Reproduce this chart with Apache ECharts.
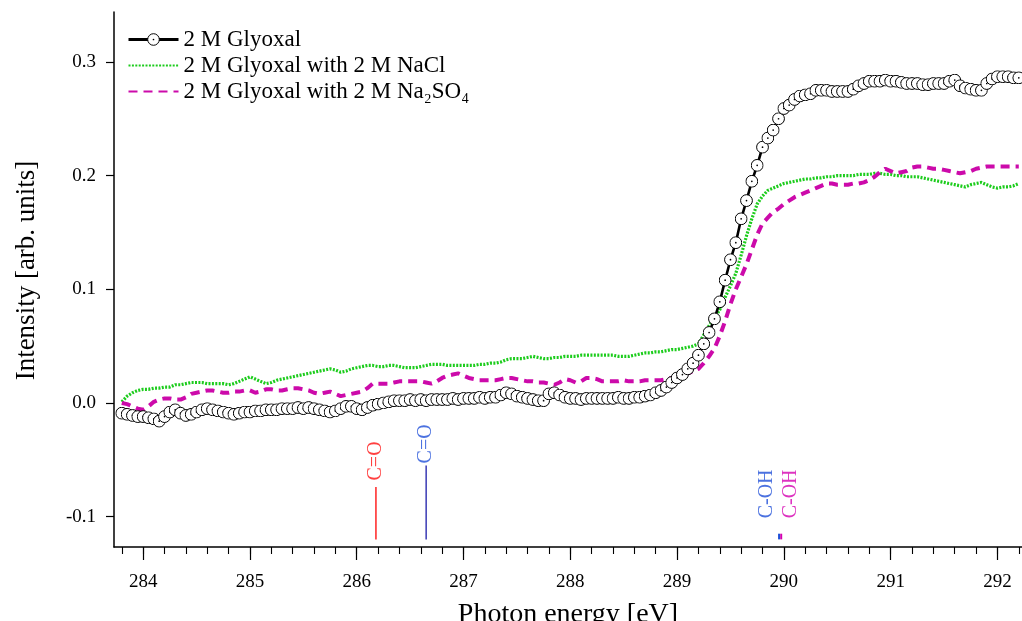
<!DOCTYPE html>
<html><head><meta charset="utf-8">
<script src="https://cdn.jsdelivr.net/npm/echarts@6/dist/echarts.min.js"></script>
<style>html,body{margin:0;padding:0;background:#fff}#c{width:1022px;height:621px}</style>
</head><body><div id="c"></div>
<script>
// ---- data ----
const E_START = 283.80, E_STEP = 0.05; // uniform photon-energy grid of the spectra
const glyoxal = [
 -0.009,-0.010,-0.011,-0.012,-0.012,-0.013,-0.014,-0.016,-0.012,-0.008,
 -0.006,-0.009,-0.011,-0.010,-0.008,-0.006,-0.005,-0.006,-0.007,-0.008,
 -0.009,-0.010,-0.009,-0.008,-0.008,-0.007,-0.007,-0.006,-0.006,-0.006,
 -0.005,-0.005,-0.005,-0.004,-0.005,-0.004,-0.005,-0.006,-0.007,-0.008,
 -0.007,-0.005,-0.003,-0.003,-0.005,-0.006,-0.004,-0.002,-0.001,0.000,
 0.001,0.002,0.002,0.002,0.003,0.002,0.003,0.002,0.003,0.003,
 0.003,0.003,0.004,0.003,0.004,0.004,0.004,0.005,0.004,0.005,
 0.005,0.007,0.009,0.008,0.006,0.005,0.004,0.003,0.002,0.002,
 0.008,0.009,0.007,0.005,0.004,0.004,0.003,0.004,0.004,0.004,
 0.004,0.004,0.004,0.005,0.004,0.004,0.005,0.005,0.006,0.007,
 0.009,0.011,0.014,0.018,0.022,0.025,0.030,0.035,0.042,0.052,
 0.062,0.074,0.089,0.108,0.126,0.141,0.162,0.178,0.195,0.209,
 0.225,0.233,0.240,0.250,0.259,0.262,0.267,0.270,0.271,0.272,
 0.275,0.275,0.275,0.274,0.274,0.274,0.274,0.276,0.279,0.281,
 0.283,0.283,0.283,0.284,0.283,0.283,0.282,0.281,0.281,0.281,
 0.280,0.280,0.281,0.281,0.281,0.283,0.284,0.279,0.277,0.276,
 0.275,0.275,0.281,0.285,0.287,0.287,0.287,0.286,0.286
];
const withNaCl = [
 0.001,0.006,0.009,0.011,0.012,0.012,0.013,0.013,0.014,0.014,
 0.016,0.016,0.017,0.018,0.018,0.018,0.017,0.017,0.017,0.017,
 0.016,0.017,0.019,0.021,0.023,0.021,0.019,0.017,0.018,0.020,
 0.021,0.022,0.023,0.024,0.025,0.026,0.027,0.028,0.029,0.030,
 0.029,0.027,0.028,0.030,0.031,0.032,0.033,0.033,0.032,0.032,
 0.033,0.033,0.032,0.031,0.031,0.031,0.032,0.033,0.034,0.034,
 0.034,0.033,0.033,0.033,0.033,0.033,0.033,0.034,0.034,0.035,
 0.035,0.036,0.038,0.039,0.039,0.039,0.040,0.041,0.040,0.039,
 0.039,0.040,0.040,0.041,0.041,0.041,0.042,0.042,0.042,0.042,
 0.042,0.042,0.042,0.041,0.041,0.041,0.042,0.043,0.044,0.044,
 0.045,0.045,0.046,0.047,0.047,0.048,0.049,0.050,0.052,0.060,
 0.068,0.075,0.082,0.093,0.103,0.114,0.130,0.147,0.162,0.175,
 0.182,0.187,0.189,0.191,0.193,0.194,0.195,0.196,0.197,0.197,
 0.198,0.198,0.199,0.199,0.200,0.200,0.200,0.200,0.201,0.201,
 0.201,0.202,0.202,0.201,0.201,0.200,0.200,0.199,0.199,0.199,
 0.198,0.197,0.196,0.195,0.194,0.193,0.192,0.191,0.190,0.192,
 0.193,0.194,0.192,0.190,0.189,0.190,0.190,0.191,0.193
];
const withNa2SO4 = [
 0.000,-0.001,-0.003,-0.005,-0.006,-0.003,0.001,0.003,0.004,0.004,
 0.003,0.003,0.005,0.008,0.009,0.010,0.011,0.011,0.010,0.009,
 0.009,0.010,0.010,0.011,0.011,0.009,0.010,0.012,0.012,0.011,
 0.011,0.012,0.013,0.013,0.012,0.011,0.009,0.008,0.009,0.010,
 0.008,0.006,0.007,0.008,0.009,0.010,0.013,0.017,0.017,0.017,
 0.017,0.018,0.019,0.019,0.019,0.019,0.019,0.018,0.017,0.019,
 0.022,0.024,0.025,0.026,0.024,0.022,0.021,0.020,0.020,0.020,
 0.020,0.021,0.022,0.022,0.021,0.020,0.019,0.019,0.018,0.018,
 0.017,0.016,0.018,0.021,0.020,0.018,0.019,0.022,0.022,0.021,
 0.019,0.019,0.019,0.019,0.020,0.019,0.019,0.019,0.020,0.020,
 0.020,0.020,0.021,0.022,0.022,0.024,0.026,0.028,0.030,0.035,
 0.041,0.048,0.059,0.072,0.087,0.100,0.111,0.122,0.135,0.148,
 0.158,0.163,0.168,0.171,0.175,0.178,0.181,0.183,0.185,0.187,
 0.189,0.191,0.193,0.193,0.192,0.192,0.192,0.193,0.193,0.194,
 0.196,0.199,0.203,0.206,0.204,0.202,0.203,0.204,0.207,0.208,
 0.208,0.207,0.206,0.206,0.205,0.204,0.203,0.202,0.203,0.204,
 0.206,0.207,0.208,0.208,0.208,0.208,0.208,0.208,0.208
];
const seriesNames = ['2 M Glyoxal', '2 M Glyoxal with 2 M NaCl', '2 M Glyoxal with 2 M Na\u2082SO\u2084'];

// annotation sticks (assignments)
const stickLabels  = ['C=O', 'C=O', 'C-OH', 'C-OH'];
const stickEnergy  = [286.18, 286.65, 289.955, 289.975];
const stickBottom  = [-0.120, -0.120, -0.120, -0.120];
const stickTop     = [-0.074, -0.055, -0.115, -0.115];
const labelEnergy  = [286.18, 286.65, 289.84, 290.06];
const labelValue   = [-0.051, -0.036, -0.080, -0.080];

// axis ticks
const xMajorTicks = [284, 285, 286, 287, 288, 289, 290, 291, 292];
const yMajorTicks = [-0.1, 0.0, 0.1, 0.2, 0.3];
const xMinorStep = 0.2;

// ---- build ----
const energies = glyoxal.map((_, i) => +(E_START + i * E_STEP).toFixed(3));
const pair = arr => arr.map((v, i) => [energies[i], v]);
const xMinorTicks = [];
for (let v = 283.8; v < 292.25; v += xMinorStep) xMinorTicks.push(+v.toFixed(2));

const X_MIN = 283.727, X_MAX = 292.23, Y_MIN = -0.1267, Y_MAX = 0.3439;
const FONT = 'Liberation Serif';
const stickColors = ['#ff0000', '#1a1aa8', '#1f4fd8', '#d400b0'];
const labelColors = ['#ff1010', '#1f4fd8', '#1f4fd8', '#d400b0'];

const ring = 'image://data:image/svg+xml;utf8,' + encodeURIComponent(
 '<svg xmlns="http://www.w3.org/2000/svg" width="26" height="26" viewBox="0 0 26 26">' +
 '<circle cx="13" cy="13" r="11.8" fill="white" stroke="black" stroke-width="2"/>' +
 '<circle cx="13" cy="13" r="1.7" fill="black"/></svg>');

const series = [
 { name: seriesNames[1], type: 'line', data: pair(withNaCl), showSymbol: false, symbol: 'none',
   lineStyle: { color: '#1ccc1c', width: 3.2, type: [2, 1.4] }, itemStyle: { color: '#1ccc1c' }, z: 3 },
 { name: seriesNames[2], type: 'line', data: pair(withNa2SO4), showSymbol: false, symbol: 'none',
   lineStyle: { color: '#cc0aaa', width: 4, type: [9, 6] }, itemStyle: { color: '#cc0aaa' }, z: 4 },
 { name: seriesNames[0], type: 'line', data: pair(glyoxal), symbol: ring, symbolSize: 13, showAllSymbol: true,
   lineStyle: { color: '#000', width: 2.6 }, itemStyle: { color: '#000' }, z: 5 }
];
stickLabels.forEach((lab, i) => {
  series.push({ type: 'line', data: [[stickEnergy[i], stickBottom[i]], [stickEnergy[i], stickTop[i]]],
    symbol: 'none', lineStyle: { color: stickColors[i], width: i >= 2 ? 2 : 1.3 }, silent: true, z: 2 });
});
series.push({ type: 'scatter', symbolSize: 0, silent: true, z: 6,
  data: stickLabels.map((lab, i) => ({ name: lab, value: [labelEnergy[i], labelValue[i]],
    label: { color: labelColors[i] } })),
  label: { show: true, position: 'inside', rotate: 90, formatter: p => p.name,
    fontFamily: FONT, fontSize: 20 } });

const chart = echarts.init(document.getElementById('c'), null, { renderer: 'canvas' });
chart.setOption({
  animation: false,
  backgroundColor: '#fff',
  textStyle: { fontFamily: FONT },
  grid: { left: 114, right: 0, top: 12, bottom: 74, containLabel: false, outerBoundsMode: 'none' },
  legend: {
    data: [
      { name: seriesNames[0], lineStyle: { width: 3 } },
      { name: seriesNames[1], itemStyle: { opacity: 0 } },
      { name: seriesNames[2], itemStyle: { opacity: 0 } }
    ],
    orient: 'vertical', left: 122, top: 23,
    itemWidth: 50, itemHeight: 16, itemGap: 3,
    textStyle: { fontFamily: FONT, fontSize: 23, color: '#000', lineHeight: 23 }
  },
  xAxis: [{
    type: 'value', min: X_MIN, max: X_MAX, position: 'bottom',
    axisLine: { show: true, onZero: false, lineStyle: { color: '#000', width: 1.5 } },
    axisTick: { show: true, customValues: xMajorTicks, length: 13, lineStyle: { color: '#000', width: 1.2 } },
    axisLabel: { show: true, customValues: xMajorTicks, formatter: v => String(Math.round(v)),
      fontFamily: FONT, fontSize: 19, color: '#000', margin: 26 },
    splitLine: { show: false },
    name: 'Photon energy [eV]', nameLocation: 'middle', nameGap: 54,
    nameTextStyle: { fontFamily: FONT, fontSize: 28, color: '#000' }
  }, {
    type: 'value', min: X_MIN, max: X_MAX, position: 'bottom',
    axisLine: { show: false, onZero: false },
    axisTick: { show: true, customValues: xMinorTicks, length: 7, lineStyle: { color: '#000', width: 1.1 } },
    axisLabel: { show: false }, splitLine: { show: false }
  }],
  yAxis: [{
    type: 'value', min: Y_MIN, max: Y_MAX,
    axisLine: { show: true, onZero: false, lineStyle: { color: '#000', width: 1.5 } },
    axisTick: { show: true, customValues: yMajorTicks, length: 8, lineStyle: { color: '#000', width: 1.2 } },
    axisLabel: { show: true, customValues: yMajorTicks, formatter: v => v.toFixed(1),
      fontFamily: FONT, fontSize: 19, color: '#000', margin: 18 },
    splitLine: { show: false },
    name: 'Intensity [arb. units]', nameLocation: 'middle', nameGap: 74,
    nameTextStyle: { fontFamily: FONT, fontSize: 27, color: '#000', padding: [0, 0, 0, 18] }
  }],
  series: series
});
</script></body></html>
